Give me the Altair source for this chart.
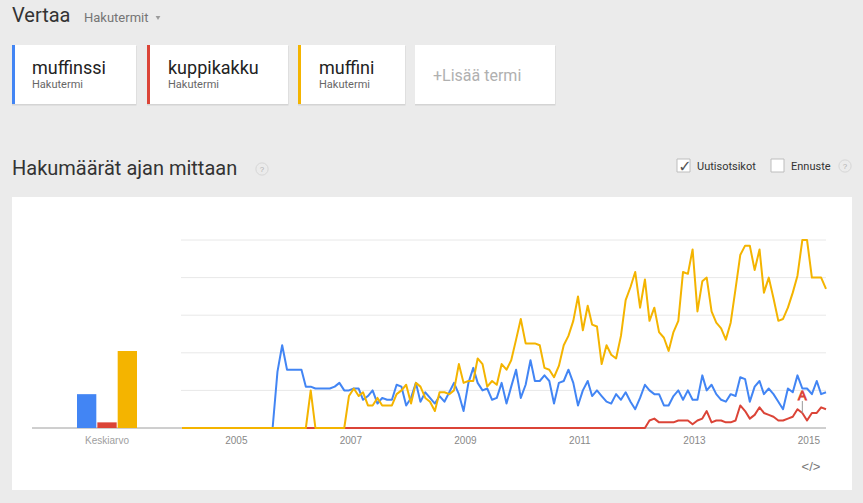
import altair as alt
import pandas as pd

# ---------------- data ----------------
terms = ["muffinssi", "kuppikakku", "muffini"]
term_colors = ["#4285f4", "#db4437", "#f4b400"]
months = pd.date_range("2004-01-01", periods=136, freq="MS").strftime("%Y-%m-%d").tolist()

muffinssi = [
    0, 0, 0, 0, 0, 0, 0, 0, 0, 0,
    0, 0, 0, 0, 0, 0, 0, 0, 0, 0,
    30, 44, 31, 31, 31, 31, 22, 22, 21, 21,
    21, 21, 22, 24, 20, 20, 21, 21, 15, 17,
    20, 13, 16, 15, 15, 23, 22, 12, 16, 24,
    14, 19, 16, 13, 17, 14, 19, 24, 18, 9,
    24, 32, 24, 20, 21, 15, 16, 24, 13, 22,
    31, 16, 23, 36, 25, 25, 28, 25, 13, 24,
    25, 31, 24, 12, 20, 25, 17, 20, 17, 14,
    13, 18, 15, 19, 14, 10, 16, 23, 20, 18,
    18, 12, 12, 17, 20, 15, 20, 15, 15, 28,
    20, 23, 18, 15, 14, 18, 17, 27, 26, 14,
    22, 25, 18, 21, 18, 14, 10, 21, 19, 28,
    21, 21, 18, 25, 18, 19,
]
kuppikakku = [0] * 98 + [
    4, 5, 3, 3, 3, 3, 4, 4, 4, 2, 4, 5,
    9, 3, 4, 4, 3, 3, 4, 12, 9, 5,
    7, 11, 8, 7, 6, 4, 4, 5, 6, 10,
    8, 4, 8, 8, 11, 10,
]
muffini = [
    0, 0, 0, 0, 0, 0, 0, 0, 0, 0,
    0, 0, 0, 0, 0, 0, 0, 0, 0, 0,
    0, 0, 0, 0, 0, 0, 0, 20, 0, 0,
    0, 0, 0, 0, 0, 17, 21, 17, 19, 12,
    12, 16, 12, 12, 12, 18, 20, 23, 13, 24,
    22, 16, 14, 9, 19, 19, 18, 20, 34, 24,
    25, 25, 37, 34, 22, 25, 23, 34, 31, 36,
    47, 58, 45, 45, 45, 44, 32, 31, 27, 33,
    44, 49, 57, 70, 52, 65, 55, 54, 34, 44,
    39, 37, 49, 68, 75, 83, 64, 79, 57, 64,
    51, 48, 41, 51, 57, 83, 82, 95, 62, 78,
    80, 62, 56, 53, 47, 56, 74, 92, 97, 97,
    84, 95, 72, 80, 69, 57, 58, 64, 72, 81,
    100, 100, 80, 80, 80, 74,
]
averages = [18, 3, 41]
grid_values = [20, 40, 60, 80, 100]
year_ticks = ["2005-01-01", "2007-01-01", "2009-01-01", "2011-01-01", "2013-01-01", "2015-01-01"]
year_labels = ["2005", "2007", "2009", "2011", "2013", "2015"]
annotation_dates = ["2014-11-01"]
annotation_letters = ["A"]

# ---------------- scales ----------------
xscale = alt.Scale(
    domain=[alt.DateTime(year=2004, month=1, date=1, utc=True),
            alt.DateTime(year=2015, month=4, date=1, utc=True)],
    range=[182, 826],
)
yscale = alt.Scale(domain=[0, 100], range=[428, 240], nice=False, zero=False)

UI_FONT = "Roboto"
CH_FONT = "Liberation Sans"


def rect(x, x2, y, y2, color, **kw):
    return alt.Chart().mark_rect(color=color, **kw).encode(
        x=alt.value(x), x2=alt.value(x2), y=alt.value(y), y2=alt.value(y2))


def label(txt, x, y, size, color, align="left", font=UI_FONT, weight="normal", baseline="alphabetic"):
    return alt.Chart().mark_text(
        text=txt, align=align, baseline=baseline, font=font, fontSize=size,
        color=color, fontWeight=weight).encode(x=alt.value(x), y=alt.value(y))


def help_icon(x, y):
    c = alt.Chart().mark_point(shape="circle", filled=False, stroke="#cfcfcf", strokeWidth=1, size=150).encode(
        x=alt.value(x), y=alt.value(y))
    t = label("?", x, y + 0.5, 8, "#b0b0b0", align="center", baseline="middle", font=CH_FONT)
    return [c, t]


layers = []

# header
layers.append(label("Vertaa", 12, 22, 20, "#333333"))
layers.append(label("Hakutermit", 84, 22, 13, "#757575"))
layers.append(alt.Chart().mark_point(shape="triangle-down", filled=True, color="#777777", size=22).encode(
    x=alt.value(158), y=alt.value(18)))

# cards
cards = [(12, 136), (147, 288), (298, 405), (415, 555)]
for i, (cx0, cx1) in enumerate(cards):
    layers.append(rect(cx0, cx1 + 0.5, 46, 105.5, "#d4d4d4"))
    layers.append(rect(cx0, cx1, 45, 104, "#ffffff"))
    if i < 3:
        layers.append(rect(cx0, cx0 + 3, 45, 104, term_colors[i]))
text_x = [32, 168, 319]
for i, t in enumerate(terms):
    layers.append(label(t, text_x[i], 74, 18, "#222222"))
    layers.append(label("Hakutermi", text_x[i], 88, 11, "#666666"))
layers.append(label("+Lisää termi", 433, 81, 16, "#b0b0b0"))

# section title + options
layers.append(label("Hakumäärät ajan mittaan", 12, 175, 20, "#333333"))
layers += help_icon(262, 169)
layers.append(rect(677, 690, 159, 172, "#ffffff", stroke="#bdbdbd", strokeWidth=1))
layers.append(label("✓", 685, 172, 16, "#555555", align="center", font="DejaVu Sans"))
layers.append(label("Uutisotsikot", 697, 170, 11, "#333333"))
layers.append(rect(771, 784, 159, 172, "#ffffff", stroke="#bdbdbd", strokeWidth=1))
layers.append(label("Ennuste", 791, 170, 11, "#333333"))
layers += help_icon(845, 166)

# chart panel
layers.append(rect(12, 852, 197, 490, "#ffffff"))

# gridlines
grid_df = pd.DataFrame({"v": grid_values})
layers.append(alt.Chart(grid_df).mark_rule(color="#e8e8e8", strokeWidth=1).encode(
    y=alt.Y("v:Q", scale=yscale, axis=None), x=alt.value(181), x2=alt.value(826)))
# baseline
base_df = pd.DataFrame({"v": [0]})
layers.append(alt.Chart(base_df).mark_rule(color="#9e9e9e", strokeWidth=1).encode(
    y=alt.Y("v:Q", scale=yscale, axis=None), x=alt.value(32), x2=alt.value(826)))

# average bars
avg_df = pd.DataFrame({"term": terms, "avg": averages})
layers.append(alt.Chart(avg_df).mark_bar().encode(
    x=alt.X("term:N", scale=alt.Scale(domain=terms, range=[77, 137], paddingInner=0.05, paddingOuter=0), axis=None),
    y=alt.Y("avg:Q", scale=yscale, axis=None),
    color=alt.Color("term:N", scale=alt.Scale(domain=terms, range=term_colors), legend=None),
))
layers.append(label("Keskiarvo", 107, 444, 10, "#9e9e9e", align="center", font=CH_FONT))

# year labels
tick_df = pd.DataFrame({"date": year_ticks, "label": year_labels})
layers.append(alt.Chart(tick_df).mark_text(font=CH_FONT, fontSize=10, color="#888888", baseline="alphabetic",
                                           dx=-3).encode(
    x=alt.X("date:T", scale=xscale, axis=None), y=alt.value(444), text="label:N"))

# lines
for name, vals, col in [("muffinssi", muffinssi, term_colors[0]),
                        ("kuppikakku", kuppikakku, term_colors[1]),
                        ("muffini", muffini, term_colors[2])]:
    df = pd.DataFrame({"date": months, "value": vals})
    layers.append(alt.Chart(df).mark_line(color=col, strokeWidth=2, strokeJoin="round").encode(
        x=alt.X("date:T", scale=xscale, axis=None),
        y=alt.Y("value:Q", scale=yscale, axis=None)))

# annotation "A" on kuppikakku
ann_vals = [kuppikakku[months.index(d)] for d in annotation_dates]
ann_df = pd.DataFrame({"date": annotation_dates, "value": ann_vals, "letter": annotation_letters})
layers.append(alt.Chart(ann_df).mark_rule(color="#999999", strokeWidth=1).encode(
    x=alt.X("date:T", scale=xscale, axis=None),
    y=alt.Y("value:Q", scale=yscale, axis=None), y2=alt.value(401)))
layers.append(alt.Chart(ann_df).mark_text(font=CH_FONT, fontSize=13, color="#ffffff", stroke="#db4437",
                                          strokeWidth=1, baseline="alphabetic").encode(
    x=alt.X("date:T", scale=xscale, axis=None), y=alt.value(400), text="letter:N"))

# embed code icon
layers.append(label("</>", 811, 471, 13, "#777777", align="center", font=CH_FONT))

chart = alt.layer(*layers, data=pd.DataFrame({"d": [0]})).resolve_scale(
    x="independent"
).properties(
    width=863, height=503,
    autosize=alt.AutoSizeParams(type="none"),
    padding=0,
    background="#ebebeb",
).configure_view(strokeWidth=0)

chart.save("out.html", embed_options={"renderer": "svg", "actions": False})
